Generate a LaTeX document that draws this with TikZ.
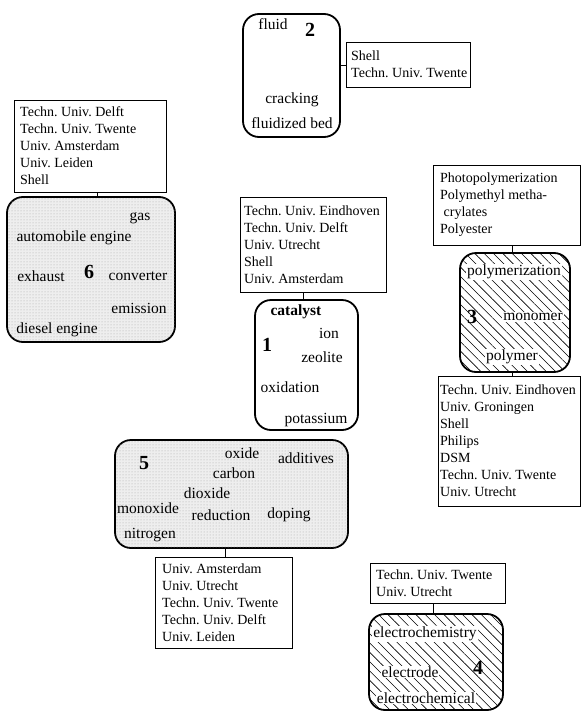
\documentclass[tikz,border=0pt]{standalone}
\usepackage{fontspec}
\setmainfont{Liberation Serif}
\usetikzlibrary{patterns.meta}
\begin{document}
\frenchspacing
\begin{tikzpicture}[x=1pt,y=-1pt,
  info/.style={draw,line width=0.7pt,anchor=north west,inner sep=0pt,outer sep=0pt},
  infotext/.style={anchor=west,align=left,inner sep=0pt,font=\fontsize{14}{17}\selectfont},
  bigbox/.style={draw,line width=1.8pt,rounded corners=16pt,anchor=north west,inner sep=0pt,outer sep=0pt},
  word/.style={font=\fontsize{15.5}{17}\selectfont,inner sep=1pt},
  wordw/.style={word,fill=white},
  num/.style={font=\fontsize{20}{20}\bfseries\selectfont,inner sep=1pt},
  link/.style={line width=0.9pt},
  hatch/.style={pattern={Lines[angle=-45,distance=6.6pt,line width=0.6pt]}},
  stip/.style={fill=gray!13,postaction={pattern={Dots[radius=0.5pt,distance=3pt]},pattern color=gray!70}}
]
\useasboundingbox (0,0) rectangle (581,712);

% ---- cluster 2
\node[bigbox,minimum width=97pt,minimum height=123pt] (b2) at (243,14) {};
\node[word] (w2a) at (273,24) {fluid};
\node[num] (n2) at (310,30) {2};
\node[word] (w2b) at (292,100) {cracking};
\node[word] (w2c) at (292,123) {fluidized bed};
\node[info,minimum width=124pt,minimum height=45pt] (i2) at (346,42) {};
\node[infotext] (t2) at ([xshift=5pt]i2.west) {Shell\\Techn. Univ. Twente};
\coordinate (c2) at (0,65);
\draw[link] (b2.east |- c2) -- (i2.west |- c2);

% ---- cluster 6
\node[info,minimum width=152pt,minimum height=92pt] (i6) at (14,100) {};
\node[infotext] (t6) at ([xshift=6pt]i6.west) {Techn. Univ. Delft\\Techn. Univ. Twente\\Univ. Amsterdam\\Univ. Leiden\\Shell};
\node[bigbox,stip,minimum width=168pt,minimum height=145pt] (b6) at (7,197) {};
\coordinate (c6) at (97,0);
\draw[link] (i6.south -| c6) -- (b6.north -| c6);
\node[word] (w6a) at (140,218) {gas};
\node[word] (w6b) at (74,238) {automobile engine};
\node[num] (n6) at (89,272) {6};
\node[word] (w6c) at (41,276) {exhaust};
\node[word] (w6d) at (138,276) {converter};
\node[word] (w6e) at (139,308) {emission};
\node[word] (w6f) at (57,330) {diesel engine};

% ---- cluster 1
\node[info,minimum width=146pt,minimum height=95pt] (i1) at (240,197) {};
\node[infotext] (t1) at ([xshift=4pt]i1.west) {Techn. Univ. Eindhoven\\Techn. Univ. Delft\\Univ. Utrecht\\Shell\\Univ. Amsterdam};
\node[bigbox,minimum width=103pt,minimum height=130pt] (b1) at (255,300) {};
\coordinate (c1) at (303,0);
\draw[link] (i1.south -| c1) -- (b1.north -| c1);
\node[word,font=\fontsize{15.5}{17}\bfseries\selectfont] (w1a) at (296,312) {catalyst};
\node[num] (n1) at (267,345) {1};
\node[word] (w1b) at (329,333) {ion};
\node[word] (w1c) at (322,357) {zeolite};
\node[word] (w1d) at (290,387) {oxidation};
\node[word] (w1e) at (316,420) {potassium};

% ---- cluster 3
\node[info,minimum width=147pt,minimum height=80pt] (i3a) at (433,165) {};
\node[infotext] (t3a) at ([xshift=7pt]i3a.west) {Photopolymerization\\Polymethyl metha-\\\ crylates\\Polyester};
\node[bigbox,hatch,minimum width=110pt,minimum height=119pt] (b3) at (460,253) {};
\coordinate (c3) at (512,0);
\draw[link] (i3a.south -| c3) -- (b3.north -| c3);
\node[wordw] (w3a) at (514,272) {polymerization};
\node[num] (n3) at (472,317) {3};
\node[wordw] (w3b) at (533,317) {monomer};
\node[wordw] (w3c) at (512,357) {polymer};
\node[info,minimum width=142pt,minimum height=130pt] (i3b) at (438,376) {};
\node[infotext] (t3b) at ([xshift=2pt]i3b.west) {Techn. Univ. Eindhoven\\Univ. Groningen\\Shell\\Philips\\DSM\\Techn. Univ. Twente\\Univ. Utrecht};
\draw[link] (b3.south -| c3) -- (i3b.north -| c3);

% ---- cluster 5
\node[bigbox,stip,minimum width=233pt,minimum height=108pt] (b5) at (115,440) {};
\node[num] (n5) at (144,463) {5};
\node[word] (w5a) at (242,453) {oxide};
\node[word] (w5b) at (306,458) {additives};
\node[word] (w5c) at (234,473) {carbon};
\node[word] (w5d) at (207,493) {dioxide};
\node[word] (w5e) at (148,508) {monoxide};
\node[word] (w5f) at (221,515) {reduction};
\node[word] (w5g) at (289,515) {doping};
\node[word] (w5h) at (150,535) {nitrogen};
\node[info,minimum width=137pt,minimum height=91pt] (i5) at (155,557) {};
\node[infotext] (t5) at ([xshift=7pt]i5.west) {Univ. Amsterdam\\Univ. Utrecht\\Techn. Univ. Twente\\Techn. Univ. Delft\\Univ. Leiden};
\coordinate (c5) at (225,0);
\draw[link] (b5.south -| c5) -- (i5.north -| c5);

% ---- cluster 4
\node[info,minimum width=135pt,minimum height=40pt] (i4) at (370,563) {};
\node[infotext] (t4) at ([xshift=6pt]i4.west) {Techn. Univ. Twente\\Univ. Utrecht};
\node[bigbox,hatch,minimum width=134pt,minimum height=96pt] (b4) at (369,614) {};
\coordinate (c4) at (433,0);
\draw[link] (i4.south -| c4) -- (b4.north -| c4);
\node[wordw] (w4a) at (425,634) {electrochemistry};
\node[wordw] (w4b) at (410,672) {electrode};
\node[num] (n4) at (478,668) {4};
\node[wordw] (w4c) at (426,698) {electrochemical};
\end{tikzpicture}
\end{document}
